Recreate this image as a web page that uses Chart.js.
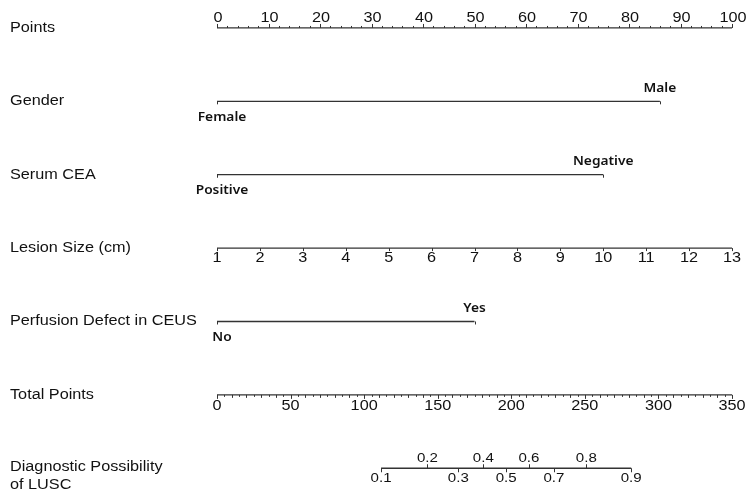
<!DOCTYPE html>
<html>
<head>
<meta charset="utf-8">
<script src="https://cdn.jsdelivr.net/npm/chart.js@4.4.1/dist/chart.umd.min.js"></script>
<style>
  html,body{margin:0;padding:0;background:#fff;}
  #wrap{width:748px;height:491px;}
</style>
</head>
<body>
<div id="wrap"><canvas id="nomo" width="748" height="491"></canvas></div>
<script>
// row names (left side)
const rowNames=["Points","Gender","Serum CEA","Lesion Size (cm)","Perfusion Defect in CEUS","Total Points","Diagnostic Possibility|of LUSC"];

// points scale
const pointTicks=[0,10,20,30,40,50,60,70,80,90,100];

// categorical predictors: level labels and their points
const genderLevels=["Female","Male"];
const genderPoints=[0,86];
const ceaLevels=["Positive","Negative"];
const ceaPoints=[0,75];
const perfusionLevels=["No","Yes"];
const perfusionPoints=[0,50];

// continuous predictor
const lesionTicks=[1,2,3,4,5,6,7,8,9,10,11,12,13];
const lesionPoints=[0,100]; // points at 1 cm and at 13 cm

// total points and probability
const totalTicks=[0,50,100,150,200,250,300,350];
const totalMax=350;
const probTicks=[0.1,0.2,0.3,0.4,0.5,0.6,0.7,0.8,0.9];
const probTotals=[111.5,143,164,181,196.5,212,229,251,281.5];

const lineCol="#333";
const txtCol="#111";
const SX=1.16; // the source image is a bit stretched sideways

function seg(a,b,row){
  return {data:[{x:a,y:row},{x:b,y:row}],borderColor:lineCol,borderWidth:1.3,pointRadius:0,showLine:true,fill:false};
}
const lesionToPts=v=>lesionPoints[0]+(v-lesionTicks[0])*(lesionPoints[1]-lesionPoints[0])/(lesionTicks[lesionTicks.length-1]-lesionTicks[0]);
const totToPts=t=>t*100/totalMax;

const datasets=[
  seg(pointTicks[0],pointTicks[pointTicks.length-1],0),
  seg(genderPoints[0],genderPoints[1],1),
  seg(ceaPoints[0],ceaPoints[1],2),
  seg(lesionPoints[0],lesionPoints[1],3),
  seg(perfusionPoints[0],perfusionPoints[1],4),
  seg(0,100,5),
  seg(totToPts(probTotals[0]),totToPts(probTotals[probTotals.length-1]),6)
];

function txt(ctx,s,x,y,align,font,sx){
  sx=sx||SX;
  ctx.save();
  ctx.font=font;
  ctx.fillStyle=txtCol;
  ctx.textBaseline="middle";
  let w=ctx.measureText(s).width*sx;
  let x0=align==="center"?x-w/2:(align==="right"?x-w:x);
  ctx.translate(x0,y);
  ctx.scale(sx,1);
  ctx.textAlign="left";
  ctx.fillText(s,0,0);
  ctx.restore();
}

const nomoPlugin={
  id:"nomo",
  afterDatasetsDraw(chart){
    const ctx=chart.ctx,xs=chart.scales.x,ys=chart.scales.y;
    const X=v=>xs.getPixelForValue(v),Y=r=>ys.getPixelForValue(r);
    const F="14px 'Liberation Sans', Arial, sans-serif";
    const FN="13px 'Liberation Sans', Arial, sans-serif";
    const FC="600 12.5px 'Noto Sans', sans-serif";
    ctx.save();
    ctx.strokeStyle=lineCol;ctx.lineWidth=1;
    const tick=(x,y,len)=>{ctx.beginPath();ctx.moveTo(Math.round(x)+0.5,y);ctx.lineTo(Math.round(x)+0.5,y+len);ctx.stroke();};

    // left labels
    rowNames.forEach((n,i)=>{
      let parts=n.split("|");
      if(parts.length===1) txt(ctx,n,10,Y(i),"left",F);
      else {txt(ctx,parts[0],10,Y(i)-1,"left",F);txt(ctx,parts[1],10,Y(i)+17,"left",F);}
    });

    // Points axis: labels above, ticks up
    let y0=Y(0);
    for(let v=0;v<=100;v+=2) tick(X(v),y0,v%10===0?-4:-2);
    pointTicks.forEach(v=>txt(ctx,String(v),X(v)+1,y0-10,"center",F));

    // categorical rows
    const cat=(levels,pts,row)=>{
      let y=Y(row);
      pts.forEach((p,i)=>{
        tick(X(p),y,3);
        let hi=p===Math.max(...pts);
        txt(ctx,levels[i],X(p)+(hi?0:5),hi?y-13:y+16,"center",FC,1.1);
      });
    };
    cat(genderLevels,genderPoints,1);
    cat(ceaLevels,ceaPoints,2);
    cat(perfusionLevels,perfusionPoints,4);

    // lesion size
    let y3=Y(3);
    lesionTicks.forEach(v=>{tick(X(lesionToPts(v)),y3,3);txt(ctx,String(v),X(lesionToPts(v)),y3+10,"center",F);});

    // total points
    let y5=Y(5);
    for(let t=0;t<=totalMax;t+=5) tick(X(totToPts(t)),y5,t%50===0?4:(t%10===0?3:2));
    totalTicks.forEach(t=>txt(ctx,String(t),X(totToPts(t)),y5+11,"center",F));

    // probability
    let y6=Y(6);
    probTicks.forEach((p,i)=>{
      let x=X(totToPts(probTotals[i]));
      let up=i%2===1;
      tick(x,y6,up?-4:4);
      txt(ctx,String(p),x,up?y6-10:y6+10,"center",FN);
    });
    ctx.restore();
  }
};

new Chart(document.getElementById("nomo").getContext("2d"),{
  type:"scatter",
  data:{datasets:datasets},
  options:{
    responsive:false,animation:false,
    layout:{padding:{left:217,right:16,top:0,bottom:0}},
    plugins:{legend:{display:false},tooltip:{enabled:false}},
    scales:{
      x:{type:"linear",min:0,max:100,display:false},
      y:{type:"linear",min:-0.381,max:6.31,reverse:true,display:false}
    }
  },
  plugins:[nomoPlugin]
});
</script>
</body>
</html>
